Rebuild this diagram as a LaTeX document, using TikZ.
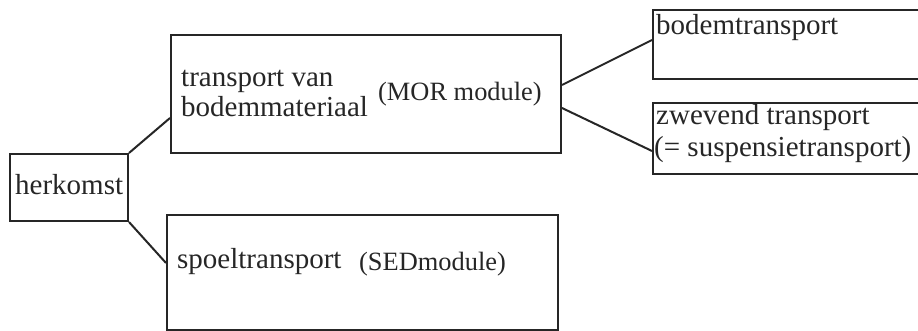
\documentclass[tikz,border=0pt]{standalone}
\usepackage{fontspec}
\setmainfont{Liberation Serif}
\begin{document}
\begin{tikzpicture}[x=1pt,y=-1pt,
  box/.style={draw=black!85,line width=2pt,rectangle,inner sep=0pt,anchor=north west},
  conn/.style={draw=black!85,line width=2pt},
  lbl/.style={inner sep=0pt,anchor=base west,text=black!85,font=\fontsize{29}{30}\selectfont},
  sml/.style={inner sep=0pt,anchor=base west,text=black!85,font=\fontsize{26.4}{28}\selectfont}]
\useasboundingbox (0,0) rectangle (918,331);
\clip (0,0) rectangle (918,331);
% boxes
\node[box,minimum width=118pt,minimum height=67pt] (herk) at (9,153) {};
\node[box,minimum width=390pt,minimum height=118pt] (trans) at (170,34) {};
\node[box,minimum width=391pt,minimum height=115pt] (spoel) at (166,214) {};
\node[box,minimum width=280pt,minimum height=69pt] (bodem) at (652,9) {};
\node[box,minimum width=280pt,minimum height=71pt] (zwev) at (652,102) {};
% texts
\node[lbl] (t1) at (15,195) {herkomst};
\node[lbl] (t2) at (181,87) {transport van};
\node[lbl] (t3) at (181,117) {bodemmateriaal};
\node[sml] (t4) at (378,101) {(MOR module)};
\node[lbl] (t5) at (177,268) {spoeltransport};
\node[sml] (t6) at (359,270) {(SEDmodule)};
\node[lbl] (t7) at (656,35) {bodemtransport};
\node[lbl] (t8) at (656,125) {zwevend transport};
\node[lbl] (t9) at (654,157) {(= suspensietransport)};
% connectors
\draw[conn] (herk.north east) -- ([yshift=-24pt]trans.west);
\draw[conn] (herk.south east) -- ([yshift=9.5pt]spoel.west);
\draw[conn] ([yshift=9pt]trans.east) -- ([yshift=4.5pt]bodem.west);
\draw[conn] ([yshift=-14pt]trans.east) -- ([yshift=-12.5pt]zwev.west);
\end{tikzpicture}
\end{document}
